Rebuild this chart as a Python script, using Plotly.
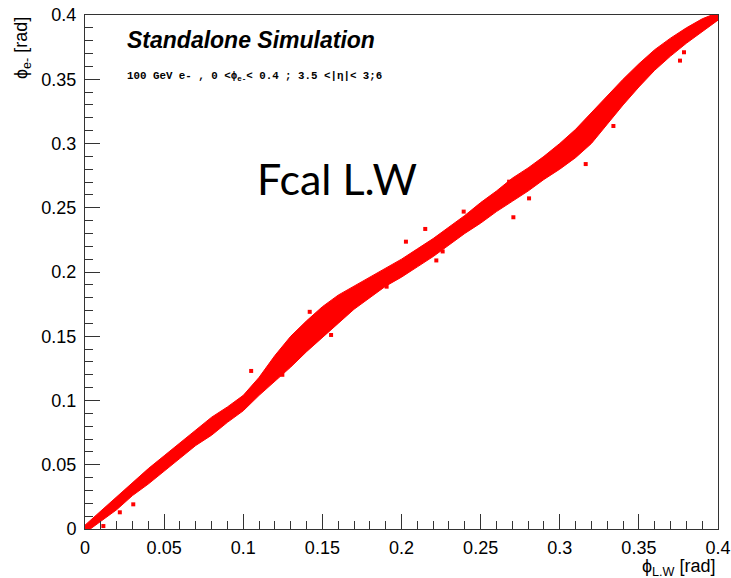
import plotly.graph_objects as go

# Band of the scatter: x, centre, vertical half-width
band_x = [0.000, 0.010, 0.020, 0.030, 0.040, 0.050, 0.060, 0.070, 0.080, 0.090,
          0.100, 0.110, 0.120, 0.130, 0.140, 0.150, 0.160, 0.170, 0.180, 0.190,
          0.200, 0.210, 0.220, 0.230, 0.240, 0.250, 0.260, 0.270, 0.280, 0.290,
          0.300, 0.310, 0.320, 0.330, 0.340, 0.350, 0.360, 0.370, 0.380, 0.390, 0.400]
band_y = [0.000, 0.010, 0.020, 0.031, 0.041, 0.051, 0.061, 0.071, 0.080, 0.089,
          0.098, 0.111, 0.125, 0.138, 0.150, 0.161, 0.171, 0.180, 0.188, 0.196,
          0.203, 0.211, 0.219, 0.228, 0.237, 0.246, 0.255, 0.264, 0.272, 0.281,
          0.290, 0.300, 0.312, 0.326, 0.340, 0.353, 0.365, 0.375, 0.384, 0.392, 0.399]
band_hw = [0.003, 0.004, 0.005, 0.005, 0.006, 0.006, 0.006, 0.006, 0.007, 0.006,
           0.006, 0.007, 0.010, 0.012, 0.012, 0.012, 0.011, 0.009, 0.008, 0.007,
           0.007, 0.007, 0.007, 0.007, 0.007, 0.008, 0.008, 0.009, 0.009, 0.009,
           0.010, 0.011, 0.012, 0.011, 0.010, 0.009, 0.008, 0.007, 0.006, 0.005, 0.003]

# Isolated points visible outside the dense band
out_x = [0.0116, 0.0305, 0.022, 0.105, 0.1247, 0.1207, 0.1555, 0.142, 0.1906,
         0.222, 0.2028, 0.215, 0.226, 0.2393, 0.2707, 0.268, 0.2806, 0.3107,
         0.3164, 0.3339, 0.3564, 0.376, 0.3785]
out_y = [0.0023, 0.0192, 0.013, 0.123, 0.120, 0.1185, 0.151, 0.169, 0.1886,
         0.209, 0.2236, 0.2335, 0.216, 0.247, 0.2426, 0.2703, 0.2573, 0.2975,
         0.284, 0.3136, 0.363, 0.3645, 0.371]

x_ticks = [0, 0.05, 0.1, 0.15, 0.2, 0.25, 0.3, 0.35, 0.4]
tick_text = ["0", "0.05", "0.1", "0.15", "0.2", "0.25", "0.3", "0.35", "0.4"]

RED = "#ff0000"
lo = [c - h for c, h in zip(band_y, band_hw)]
hi = [c + h for c, h in zip(band_y, band_hw)]

fig = go.Figure()
fig.add_trace(go.Scatter(
    x=band_x + band_x[::-1], y=hi + lo[::-1],
    fill="toself", fillcolor=RED, mode="lines",
    line=dict(color=RED, width=1), hoverinfo="skip", showlegend=False))
fig.add_trace(go.Scatter(
    x=out_x, y=out_y, mode="markers",
    marker=dict(symbol="square", size=4, color=RED, line=dict(width=0)),
    showlegend=False))

axis_common = dict(
    range=[0, 0.4], showgrid=False, zeroline=False, automargin=False,
    showline=True, mirror=True, linecolor="#333333", linewidth=1,
    ticks="inside", ticklen=15, tickwidth=1, tickcolor="#333333",
    tickvals=x_ticks, ticktext=tick_text,
    tickfont=dict(family="Liberation Sans, Arial, sans-serif", size=18, color="black"),
    minor=dict(ticks="inside", ticklen=8, tickwidth=1, tickcolor="#333333", dtick=0.01, showgrid=False),
)

fig.update_layout(
    width=731, height=578,
    margin=dict(l=85, r=13, t=15, b=49),
    paper_bgcolor="white", plot_bgcolor="white",
    xaxis=dict(axis_common, ticklabelstandoff=2),
    yaxis=dict(axis_common, ticklabelstandoff=4),
    annotations=[
        dict(text="<b><i>Standalone Simulation</i></b>", xref="paper", yref="paper",
             x=(125 - 85) / 633, y=(529 - 40) / 514, xanchor="left", yanchor="middle",
             showarrow=False,
             font=dict(family="Liberation Sans, Arial, sans-serif", size=23, color="black")),
        dict(text="<b>100 GeV e- , 0 &lt;ϕ<sub>e-</sub>&lt; 0.4 ; 3.5 &lt;|η|&lt; 3;6</b>",
             xref="paper", yref="paper",
             x=(125 - 85) / 633, y=(529 - 76) / 514, xanchor="left", yanchor="middle",
             showarrow=False,
             font=dict(family="Liberation Mono, Courier New, monospace", size=10.8, color="black")),
        dict(text="Fcal L.W", xref="paper", yref="paper",
             x=(255 - 85) / 633, y=(529 - 178) / 514, xanchor="left", yanchor="middle",
             showarrow=False,
             font=dict(family="Lato, Open Sans, sans-serif", size=43, color="black")),
        dict(text="ϕ<sub>L.W</sub> [rad]", xref="paper", yref="paper",
             x=1.0, y=(529 - 567) / 514, xanchor="right", yanchor="middle",
             showarrow=False,
             font=dict(family="Liberation Sans, Arial, sans-serif", size=18, color="black")),
        dict(text="ϕ<sub>e-</sub> [rad]", xref="paper", yref="paper",
             x=(22 - 85) / 633, y=1.0, xanchor="center", yanchor="top",
             textangle=-90, showarrow=False,
             font=dict(family="Liberation Sans, Arial, sans-serif", size=18, color="black")),
    ],
)

fig.write_html("out.html")
